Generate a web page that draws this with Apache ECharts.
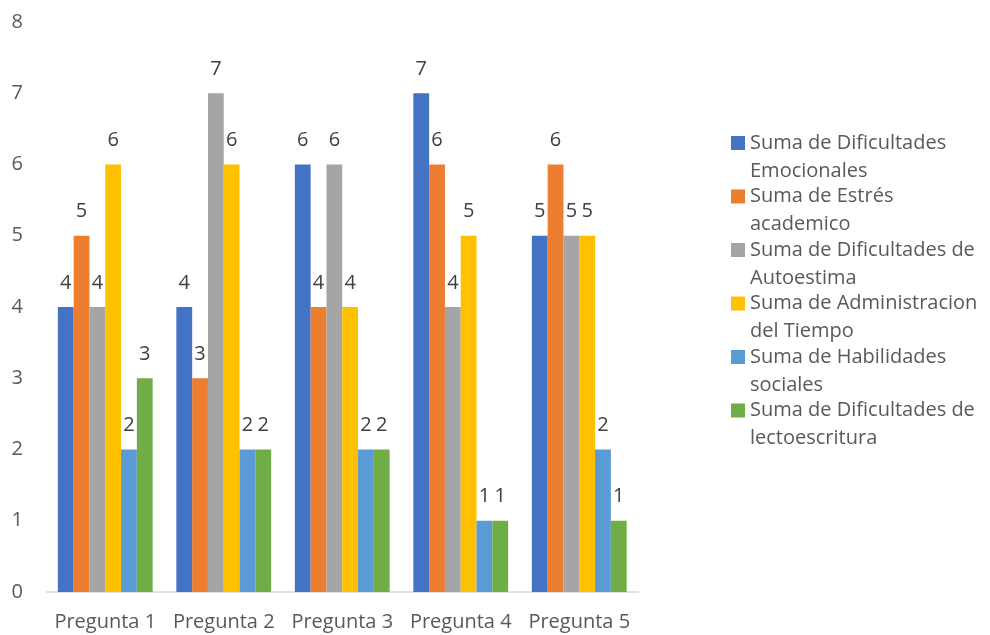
<!DOCTYPE html>
<html>
<head>
<meta charset="utf-8">
<script src="https://cdn.jsdelivr.net/npm/echarts@6/dist/echarts.min.js"></script>
<style>html,body{margin:0;padding:0;background:#fff;}#c{width:990px;height:635px;}</style>
</head>
<body>
<div id="c"></div>
<script>
const categories = ['Pregunta 1', 'Pregunta 2', 'Pregunta 3', 'Pregunta 4', 'Pregunta 5'];
const seriesNames = [
  'Suma de Dificultades Emocionales',
  'Suma de Estrés academico',
  'Suma de Dificultades de Autoestima',
  'Suma de Administracion del Tiempo',
  'Suma de Habilidades sociales',
  'Suma de Dificultades de lectoescritura'
];
const legendLines = {
  'Suma de Dificultades Emocionales': ['Suma de Dificultades', 'Emocionales'],
  'Suma de Estrés academico': ['Suma de Estrés', 'academico'],
  'Suma de Dificultades de Autoestima': ['Suma de Dificultades de', 'Autoestima'],
  'Suma de Administracion del Tiempo': ['Suma de Administracion', 'del Tiempo'],
  'Suma de Habilidades sociales': ['Suma de Habilidades', 'sociales'],
  'Suma de Dificultades de lectoescritura': ['Suma de Dificultades de', 'lectoescritura']
};
const emocionales = [4, 4, 6, 7, 5];
const estres = [5, 3, 4, 6, 6];
const autoestima = [4, 7, 6, 4, 5];
const tiempo = [6, 6, 4, 5, 5];
const habilidades = [2, 2, 2, 1, 2];
const lectoescritura = [3, 2, 2, 1, 1];
const yTicks = [0, 1, 2, 3, 4, 5, 6, 7, 8];

const values = [emocionales, estres, autoestima, tiempo, habilidades, lectoescritura];
const colors = ['#4472C4', '#ED7D31', '#A5A5A5', '#FFC000', '#5B9BD5', '#70AD47'];
const FONT = '"Open Sans", sans-serif';

const chart = echarts.init(document.getElementById('c'), null, {renderer: 'canvas'});
chart.setOption({
  animation: false,
  color: colors,
  textStyle: {fontFamily: FONT},
  grid: {left: 46, right: 351.5, top: 22, bottom: 43, containLabel: false},
  legend: {
    orient: 'vertical',
    left: 731,
    top: 101,
    padding: 0,
    itemWidth: 14,
    itemHeight: 14,
    itemGap: -30.5,
    icon: 'rect',
    data: seriesNames,
    formatter: function (n) { return ' \n' + legendLines[n].join('\n'); },
    textStyle: {
      fontFamily: FONT,
      fontSize: 20,
      color: '#595959',
      lineHeight: 28
    }
  },
  xAxis: {
    type: 'category',
    data: categories,
    axisTick: {show: false},
    axisLine: {show: true, lineStyle: {color: '#D9D9D9', width: 1.5}},
    axisLabel: {fontFamily: FONT, fontSize: 20, color: '#595959', margin: 20, interval: 0}
  },
  yAxis: {
    type: 'value',
    min: 0,
    max: 8,
    interval: 1,
    axisLine: {show: false},
    axisTick: {show: false},
    splitLine: {show: false},
    axisLabel: {
      fontFamily: FONT, fontSize: 20, color: '#595959', margin: 23,
      formatter: function (v) { return yTicks.indexOf(v) >= 0 ? String(v) : ''; }
    }
  },
  series: seriesNames.map(function (name, i) {
    return {
      name: name,
      type: 'bar',
      data: values[i],
      barGap: '0%',
      barCategoryGap: '20%',
      itemStyle: {color: colors[i]},
      label: {
        show: true,
        position: 'top',
        distance: 14,
        fontFamily: FONT,
        fontSize: 20,
        color: '#404040'
      }
    };
  })
});
</script>
</body>
</html>
